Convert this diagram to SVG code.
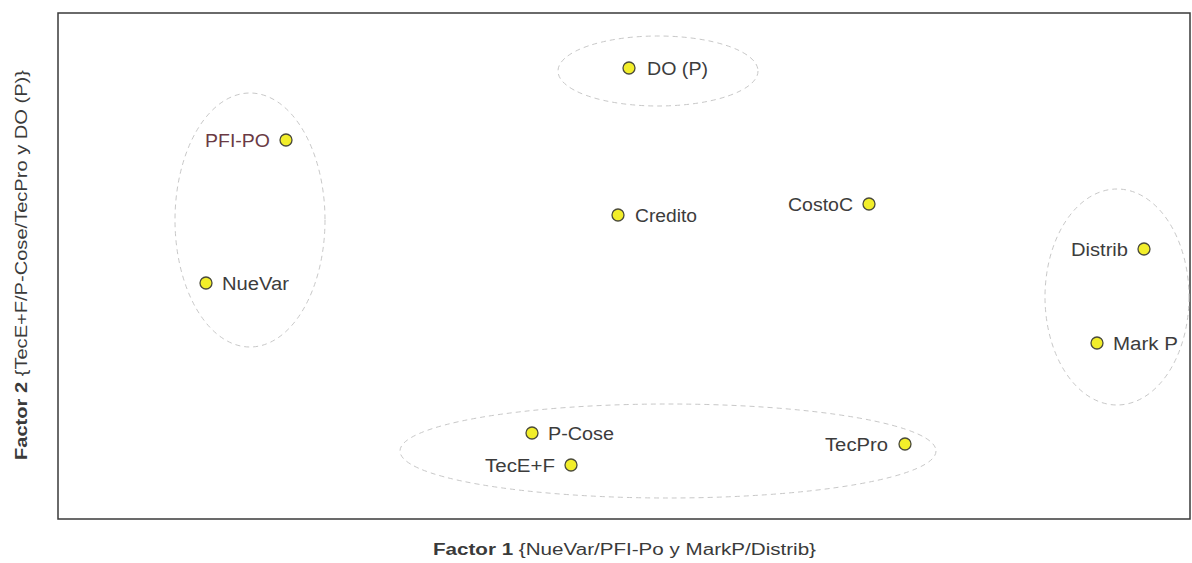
<svg xmlns="http://www.w3.org/2000/svg" width="1192" height="563" viewBox="0 0 1192 563">
<style>
.lbl{font-family:"Liberation Sans",Arial,sans-serif;font-size:18px;fill:#3c3c3c}
.ax{font-family:"Liberation Sans",Arial,sans-serif;font-size:16px;fill:#3a3a3a}
.dot{fill:#f2ee2a;stroke:#4a4a3a;stroke-width:1.3}
.grp{fill:none;stroke:#c8c8c8;stroke-width:1;stroke-dasharray:5 4}
</style>
<rect width="1192" height="563" fill="#ffffff"/>
<rect x="58" y="13" width="1132" height="506" fill="none" stroke="#3a3a3a" stroke-width="1.5"/>
<g id="groups">
<ellipse class="grp" cx="658" cy="71" rx="100" ry="35"/>
<ellipse class="grp" cx="250" cy="220" rx="75" ry="127"/>
<ellipse class="grp" cx="668" cy="451" rx="268" ry="47"/>
<ellipse class="grp" cx="1117" cy="297" rx="72" ry="108"/>
</g>
<g id="connectors"></g>
<g id="n-do"><circle class="dot" cx="629" cy="68" r="6"/><text class="lbl" x="647" y="75" textLength="61" lengthAdjust="spacingAndGlyphs">DO (P)</text></g>
<g id="n-pfipo"><circle class="dot" cx="286" cy="140" r="6"/><text class="lbl" x="270" y="147" text-anchor="end" style="fill:#6a3a44" textLength="65" lengthAdjust="spacingAndGlyphs">PFI-PO</text></g>
<g id="n-credito"><circle class="dot" cx="618" cy="215" r="6"/><text class="lbl" x="635" y="222" textLength="62" lengthAdjust="spacingAndGlyphs">Credito</text></g>
<g id="n-costoc"><circle class="dot" cx="869" cy="204" r="6"/><text class="lbl" x="853" y="211" text-anchor="end" textLength="65" lengthAdjust="spacingAndGlyphs">CostoC</text></g>
<g id="n-nuevar"><circle class="dot" cx="206" cy="283" r="6"/><text class="lbl" x="222" y="290" textLength="67" lengthAdjust="spacingAndGlyphs">NueVar</text></g>
<g id="n-distrib"><circle class="dot" cx="1144" cy="249" r="6"/><text class="lbl" x="1128" y="256" text-anchor="end" textLength="57" lengthAdjust="spacingAndGlyphs">Distrib</text></g>
<g id="n-markp"><circle class="dot" cx="1097" cy="343" r="6"/><text class="lbl" x="1113" y="350" textLength="65" lengthAdjust="spacingAndGlyphs">Mark P</text></g>
<g id="n-pcose"><circle class="dot" cx="532" cy="433" r="6"/><text class="lbl" x="548" y="440" textLength="66" lengthAdjust="spacingAndGlyphs">P-Cose</text></g>
<g id="n-tecef"><circle class="dot" cx="571" cy="465" r="6"/><text class="lbl" x="555" y="472" text-anchor="end" textLength="70" lengthAdjust="spacingAndGlyphs">TecE+F</text></g>
<g id="n-tecpro"><circle class="dot" cx="905" cy="444" r="6"/><text class="lbl" x="888" y="451" text-anchor="end" textLength="63" lengthAdjust="spacingAndGlyphs">TecPro</text></g>
<g id="axes">
<text class="ax" x="433" y="555" textLength="383" lengthAdjust="spacingAndGlyphs"><tspan font-weight="bold">Factor 1</tspan> {NueVar/PFI-Po y MarkP/Distrib}</text>
<text class="ax" transform="translate(27,460) rotate(-90)" x="0" y="0" textLength="390" lengthAdjust="spacingAndGlyphs"><tspan font-weight="bold">Factor 2</tspan> {TecE+F/P-Cose/TecPro y DO (P)}</text>
</g>
</svg>
